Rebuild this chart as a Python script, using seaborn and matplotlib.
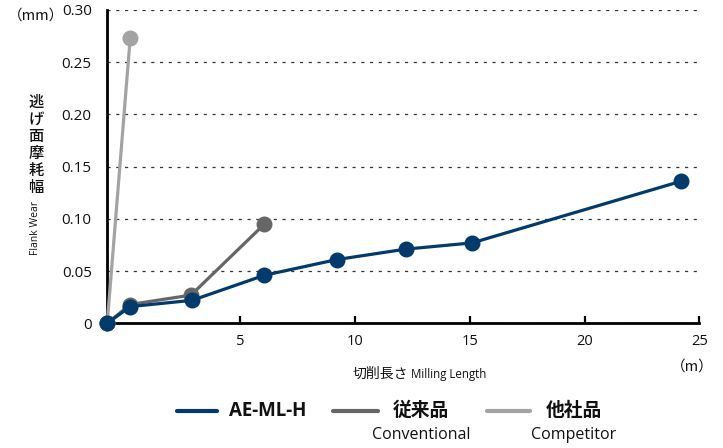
import matplotlib
matplotlib.use("Agg")
import matplotlib.pyplot as plt
from matplotlib.lines import Line2D
import seaborn as sns
import pandas as pd

# ---- data ----
series_names = ["他社品", "従来品", "AE-ML-H"]
competitor_x = [-0.8, 0.2]
competitor_y = [0.0, 0.273]
conventional_x = [-0.8, 0.2, 2.85, 6.05]
conventional_y = [0.0, 0.018, 0.027, 0.095]
aeml_x = [-0.8, 0.2, 2.9, 6.05, 9.2, 12.2, 15.1, 24.2]
aeml_y = [0.0, 0.016, 0.022, 0.046, 0.061, 0.071, 0.077, 0.136]
y_ticks = [0, 0.05, 0.10, 0.15, 0.20, 0.25, 0.30]
y_tick_labels = ["0", "0.05", "0.10", "0.15", "0.20", "0.25", "0.30"]
x_ticks = [5, 10, 15, 20, 25]
x_tick_labels = ["5", "10", "15", "20", "25"]

colors = {"他社品": "#a3a3a3", "従来品": "#666666", "AE-ML-H": "#023a6b"}

df = pd.concat([
    pd.DataFrame({"x": competitor_x, "y": competitor_y, "s": "他社品"}),
    pd.DataFrame({"x": conventional_x, "y": conventional_y, "s": "従来品"}),
    pd.DataFrame({"x": aeml_x, "y": aeml_y, "s": "AE-ML-H"}),
], ignore_index=True)

sns.set_theme(style="white")
plt.rcParams["font.family"] = ["Open Sans", "Noto Sans CJK JP", "DejaVu Sans"]
CJK = ["Noto Sans CJK JP", "DejaVu Sans"]

fig = plt.figure(figsize=(7.23, 4.48), dpi=100)
W, H = 723, 448
ax = fig.add_axes([107 / W, 1 - 323.3 / H, (699.3 - 107) / W, (323.3 - 10) / H])

sns.lineplot(data=df, x="x", y="y", hue="s", hue_order=series_names,
             palette=colors, marker="o", markersize=11.5, markeredgewidth=0,
             linewidth=2.3, sort=False, legend=False, ax=ax, clip_on=False)
for ln in ax.lines:
    ln.set_clip_on(False)

ax.set_xlim(-0.81, 25)
ax.set_ylim(0, 0.30)
ax.set_yticks(y_ticks)
ax.set_yticklabels(y_tick_labels)
ax.set_xticks(x_ticks)
ax.set_xticklabels(x_tick_labels)
ax.set_xlabel("")
ax.set_ylabel("")

ax.yaxis.grid(True, linestyle=(0, (2.5, 4.5)), color="#333333", linewidth=0.9)
ax.xaxis.grid(False)
ax.set_axisbelow(True)
for s in ["top", "right"]:
    ax.spines[s].set_visible(False)
for s in ["left", "bottom"]:
    ax.spines[s].set_color("black")
    ax.spines[s].set_linewidth(2.0)
    ax.spines[s].set_zorder(1.5)

ax.tick_params(axis="x", direction="in", length=5, width=1.6, color="black",
               pad=8, labelsize=10.5, labelcolor="#111111", bottom=True)
ax.tick_params(axis="y", length=0, pad=11, labelsize=11, labelcolor="#111111")

# unit labels
fig.text(8 / W, 1 - 16 / H, "（mm）", fontsize=10.5, family=CJK, va="center", ha="left", color="#111111")
fig.text(714 / W, 1 - 367 / H, "（m）", fontsize=10.5, family=CJK, va="center", ha="right", color="#111111")

# y axis label (vertical stacked Japanese + rotated English)
fig.text(36 / W, 1 - 145 / H, "\n".join("逃げ面摩耗幅"), fontsize=11, family=CJK,
         va="center", ha="center", linespacing=1.0, color="#111111", fontweight="medium")
fig.text(36 / W, 1 - 228 / H, "Flank Wear", fontsize=7.5, rotation=90,
         va="center", ha="center", color="#111111")

# x axis label
fig.text(408 / W, 1 - 378 / H, "切削長さ", fontsize=10, family=CJK, ha="right",
         va="baseline", color="#111111")
fig.text(411 / W, 1 - 378 / H, "Milling Length", fontsize=8.3, ha="left",
         va="baseline", color="#111111")

# manual legend
legend_items = [
    ("AE-ML-H", None, 177, 217, 268),
    ("従来品", "Conventional", 333, 378, 421),
    ("他社品", "Competitor", 487, 530, 574),
]
for (name, sub, x0, x1, xc) in legend_items:
    fig.add_artist(Line2D([x0 / W, x1 / W], [1 - 411 / H, 1 - 411 / H],
                          color=colors[name], linewidth=3.0, transform=fig.transFigure))
    fig.text(xc / W, 1 - 411 / H, name, fontsize=13.5, fontweight="bold",
             family=["Open Sans", "Noto Sans CJK JP", "DejaVu Sans"],
             ha="center", va="center", color="#111111")
    if sub:
        fig.text(xc / W, 1 - 435 / H, sub, fontsize=11.5, ha="center", va="center", color="#111111")

fig.savefig("out.png", dpi=100)
